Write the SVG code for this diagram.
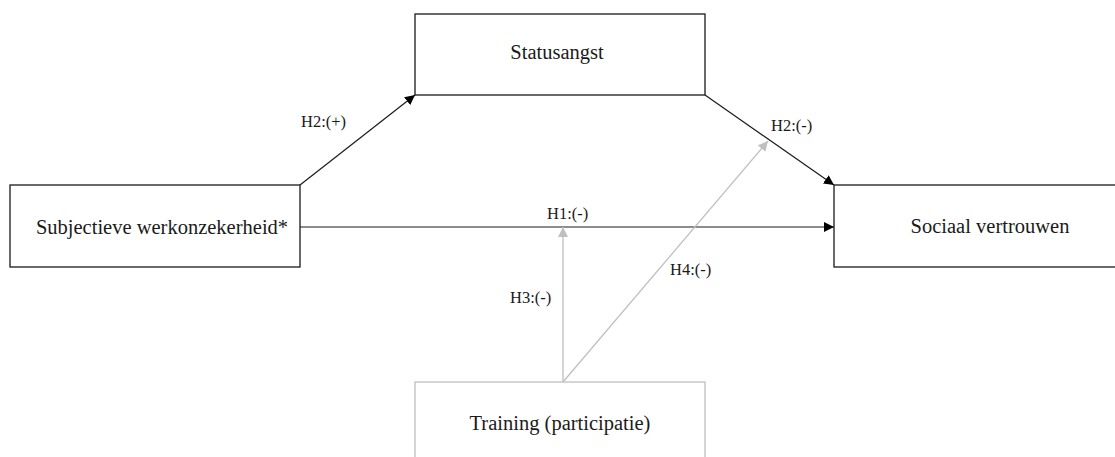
<svg xmlns="http://www.w3.org/2000/svg" width="1115" height="457" viewBox="0 0 1115 457">
<style>
.box{fill:#fff;stroke:#1a1a1a;stroke-width:1.3}
.gbox{fill:#fff;stroke:#bfbfbf;stroke-width:1.3}
.t{font-family:"Liberation Serif","Times New Roman",serif;font-size:20.5px;fill:#1a1a1a;text-anchor:middle}
.lbl{font-family:"Liberation Serif","Times New Roman",serif;font-size:16.5px;fill:#1a1a1a}
.ln{stroke:#1a1a1a;stroke-width:1.2;fill:none}
.gln{stroke:#bfbfbf;stroke-width:1.3;fill:none}
</style>
<defs>
<marker id="ab" viewBox="0 0 10 10" refX="10" refY="5" markerWidth="10" markerHeight="10" markerUnits="userSpaceOnUse" orient="auto"><path d="M0,0 L10,5 L0,10 z" fill="#000"/></marker>
<marker id="ag" viewBox="0 0 10 10" refX="10" refY="5" markerWidth="10" markerHeight="10" markerUnits="userSpaceOnUse" orient="auto"><path d="M0,0 L10,5 L0,10 z" fill="#bfbfbf"/></marker>
</defs>
<rect width="1115" height="457" fill="#fff"/>
<g id="connectors">
<line class="ln" x1="300" y1="185" x2="415" y2="95" marker-end="url(#ab)"/>
<line class="ln" x1="705" y1="95" x2="834" y2="185" marker-end="url(#ab)"/>
<line class="ln" x1="300" y1="227" x2="834" y2="227" marker-end="url(#ab)"/>
<line class="gln" x1="563" y1="382" x2="563" y2="227" marker-end="url(#ag)"/>
<line class="gln" x1="563" y1="382" x2="768" y2="141" marker-end="url(#ag)"/>
<text class="lbl" x="301" y="127">H2:(+)</text>
<text class="lbl" x="771" y="131">H2:(-)</text>
<text class="lbl" x="547" y="219">H1:(-)</text>
<text class="lbl" x="510" y="303">H3:(-)</text>
<text class="lbl" x="670" y="275">H4:(-)</text>
</g>
<g id="node-subjectieve">
<rect class="box" x="10" y="185" width="290" height="82"/>
<text class="t" x="162" y="234">Subjectieve werkonzekerheid*</text>
</g>
<g id="node-statusangst">
<rect class="box" x="415" y="14" width="290" height="81"/>
<text class="t" x="557" y="59">Statusangst</text>
</g>
<g id="node-sociaal">
<rect class="box" x="834" y="185" width="290" height="82"/>
<text class="t" x="990" y="233">Sociaal vertrouwen</text>
</g>
<g id="node-training">
<rect class="gbox" x="415" y="382" width="290" height="90"/>
<text class="t" x="560" y="430">Training (participatie)</text>
</g>
</svg>
